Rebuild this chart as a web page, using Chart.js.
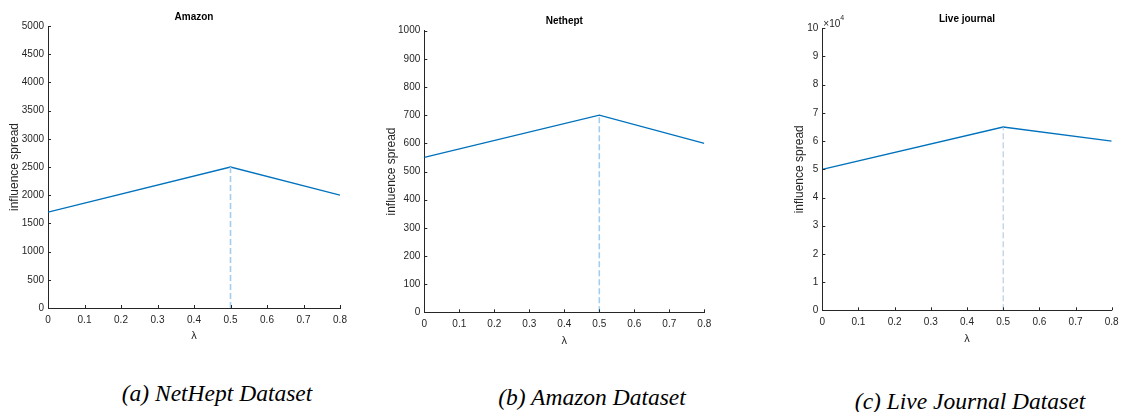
<!DOCTYPE html>
<html>
<head>
<meta charset="utf-8">
<script src="https://cdn.jsdelivr.net/npm/chart.js@4.4.1/dist/chart.umd.min.js"></script>
<style>
  body { margin: 0; background: #fff; width: 1144px; height: 412px; position: relative; overflow: hidden; }
  .panel { position: absolute; top: 0; height: 360px; }
  .caption { position: absolute; font-family: "Liberation Serif", "Times New Roman", serif; font-style: italic; font-size: 23.5px; color: #000; white-space: nowrap; transform: translate(-50%, -50%); }
</style>
</head>
<body>
<div class="panel" id="p1" style="left:0;width:370px"><canvas id="c1"></canvas></div>
<div class="panel" id="p2" style="left:380px;width:370px"><canvas id="c2"></canvas></div>
<div class="panel" id="p3" style="left:780px;width:364px"><canvas id="c3"></canvas></div>
<div class="caption" style="left:217px;top:393px">(a) NetHept Dataset</div>
<div class="caption" style="left:592px;top:397px">(b) Amazon Dataset</div>
<div class="caption" style="left:970px;top:401px">(c) Live Journal Dataset</div>
<script>
// données
const lambdaVals = [0, 0.5, 0.8];
const amazonSpread = [1700, 2500, 2000];
const netheptSpread = [550, 700, 600];
const liveJournalSpread = [50000, 65000, 60000];
const peakLambda = 0.5;

const xTicks = [0, 0.1, 0.2, 0.3, 0.4, 0.5, 0.6, 0.7, 0.8];
const amazonTicks = [0, 500, 1000, 1500, 2000, 2500, 3000, 3500, 4000, 4500, 5000];
const netheptTicks = [0, 100, 200, 300, 400, 500, 600, 700, 800, 900, 1000];
const liveJournalTicks = [0, 10000, 20000, 30000, 40000, 50000, 60000, 70000, 80000, 90000, 100000];

const AXIS = "#262626";
const LINE = "#0072BD";
const FONT = "'Liberation Sans', Arial, sans-serif";

// ticks vers l'intérieur, comme MATLAB
const inwardTicks = {
    id: "inwardTicks",
    afterDatasetsDraw(chart) {
        const { ctx, chartArea: a, scales: { x, y } } = chart;
        ctx.save();
        ctx.strokeStyle = AXIS;
        ctx.lineWidth = 1;
        ctx.beginPath();
        x.ticks.forEach(t => {
            const px = Math.round(x.getPixelForValue(t.value)) + 0.5;
            ctx.moveTo(px, a.bottom);
            ctx.lineTo(px, a.bottom - 3);
        });
        y.ticks.forEach(t => {
            const py = Math.round(y.getPixelForValue(t.value)) + 0.5;
            ctx.moveTo(a.left, py);
            ctx.lineTo(a.left + 3, py);
        });
        ctx.stroke();
        ctx.restore();
    }
};

// exposant ×10^4 au-dessus de l'axe y
const exponentLabel = {
    id: "exponentLabel",
    afterDraw(chart, args, opts) {
        if (!opts.show) return;
        const { ctx, chartArea: a } = chart;
        ctx.save();
        ctx.fillStyle = AXIS;
        ctx.textBaseline = "middle";
        ctx.font = "10px " + FONT;
        ctx.fillText("×10", a.left + 1, a.top - 4);
        const w = ctx.measureText("×10").width;
        ctx.font = "7px " + FONT;
        ctx.fillText("4", a.left + 1 + w, a.top - 10);
        ctx.restore();
    }
};

function makePanel(canvasId, p) {
    const series = lambdaVals.map((x, i) => ({ x, y: p.values[i] }));
    const peak = Math.max(...p.values);
    const dashed = [{ x: peakLambda, y: 0 }, { x: peakLambda, y: peak }];

    return new Chart(document.getElementById(canvasId), {
        type: "line",
        data: {
            datasets: [
                { data: dashed, borderColor: p.dashColor, borderWidth: p.dashWidth, borderDash: [6, 3], pointRadius: 0 },
                { data: series, borderColor: LINE, borderWidth: 1.3, pointRadius: 0, tension: 0 }
            ]
        },
        options: {
            responsive: true,
            maintainAspectRatio: false,
            animation: false,
            layout: { padding: { left: 0, right: p.padRight, top: 0, bottom: 0 } },
            plugins: {
                legend: { display: false },
                tooltip: { enabled: false },
                title: {
                    display: true,
                    text: p.title,
                    fullSize: false,
                    color: "#000",
                    font: { family: FONT, size: 10, weight: "bold" },
                    padding: { top: p.titleTop, bottom: p.titleBottom }
                },
                exponentLabel: { show: !!p.exponent }
            },
            scales: {
                x: {
                    type: "linear",
                    min: 0,
                    max: 0.8,
                    afterBuildTicks: s => { s.ticks = xTicks.map(v => ({ value: v })); },
                    afterFit: s => { s.height = p.xHeight; },
                    grid: { display: false, drawTicks: false, tickLength: 0 },
                    border: { display: true, color: AXIS, width: 1 },
                    ticks: {
                        color: AXIS,
                        padding: 6,
                        maxRotation: 0,
                        font: { family: FONT, size: 10 },
                        callback: v => String(Math.round(v * 10) / 10)
                    },
                    title: {
                        display: true,
                        text: "λ",
                        color: AXIS,
                        font: { family: FONT, size: 11 },
                        padding: { top: 0, bottom: p.lambdaPad }
                    }
                },
                y: {
                    type: "linear",
                    min: 0,
                    max: p.ticks[p.ticks.length - 1],
                    afterBuildTicks: s => { s.ticks = p.ticks.map(v => ({ value: v })); },
                    afterFit: s => { s.width = p.yWidth; },
                    grid: { display: false, drawTicks: false, tickLength: 0 },
                    border: { display: true, color: AXIS, width: 1 },
                    ticks: {
                        color: AXIS,
                        padding: 4,
                        font: { family: FONT, size: 10 },
                        callback: v => String(p.exponent ? v / p.exponent : v)
                    },
                    title: {
                        display: true,
                        text: "influence spread",
                        color: AXIS,
                        font: { family: FONT, size: 12 },
                        padding: { top: p.yTitlePad, bottom: 0 }
                    }
                }
            }
        },
        plugins: [inwardTicks, exponentLabel]
    });
}

makePanel("c1", {
    title: "Amazon", values: amazonSpread, ticks: amazonTicks,
    yWidth: 48, padRight: 30, titleTop: 11, titleBottom: 3, xHeight: 52,
    lambdaPad: 17.4, yTitlePad: 7.8, dashColor: "#a3cdec", dashWidth: 1.6
});
makePanel("c2", {
    title: "Nethept", values: netheptSpread, ticks: netheptTicks,
    yWidth: 44.3, padRight: 45.7, titleTop: 15, titleBottom: 3.7, xHeight: 47.7,
    lambdaPad: 12.4, yTitlePad: 4.8, dashColor: "#a3cdec", dashWidth: 1.6
});
makePanel("c3", {
    title: "Live journal", values: liveJournalSpread, ticks: liveJournalTicks, exponent: 10000,
    yWidth: 42.3, padRight: 32.3, titleTop: 13, titleBottom: 3.3, xHeight: 49.7,
    lambdaPad: 14.4, yTitlePad: 12.8, dashColor: "#a9c3d9", dashWidth: 1
});
</script>
</body>
</html>
